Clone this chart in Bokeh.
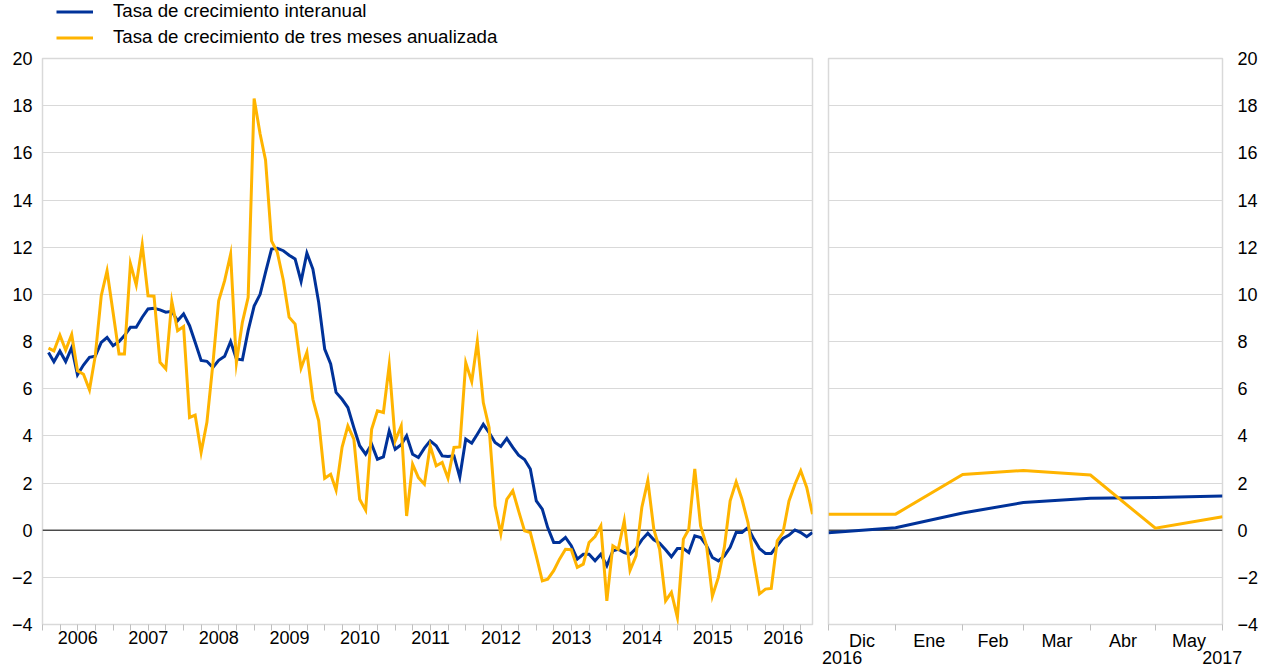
import pandas as pd
from bokeh.plotting import figure
from bokeh.models import FixedTicker, Span, Legend, LegendItem, LinearAxis, Range1d
from bokeh.layouts import row, column
from bokeh.embed import file_html
from bokeh.resources import INLINE

FONT = "Liberation Sans"
BLUE = "#003299"
ORANGE = "#FFB400"
GRID = "#d9d9d9"
TICK = "#bfbfbf"

# ---------------- data ----------------
first_month_end = "2006-01-31"
interanual = [
    7.53, 7.14, 7.59, 7.15, 7.74, 6.59, 7.00, 7.33, 7.38, 7.96, 8.17, 7.82,
    8.00, 8.25, 8.60, 8.60, 9.03, 9.38, 9.41, 9.34, 9.24, 9.28, 8.88, 9.17,
    8.67, 7.97, 7.20, 7.16, 6.90, 7.20, 7.37, 8.00, 7.26, 7.22, 8.46, 9.50,
    10.00, 10.93, 11.92, 11.95, 11.85, 11.66, 11.50, 10.55, 11.75, 11.07, 9.66, 7.68,
    7.05, 5.84, 5.55, 5.20, 4.35, 3.58, 3.22, 3.65, 3.01, 3.11, 4.21, 3.43,
    3.62, 4.00, 3.22, 3.08, 3.48, 3.79, 3.58, 3.15, 3.12, 3.15, 2.25, 3.86,
    3.69, 4.07, 4.49, 4.14, 3.72, 3.55, 3.89, 3.51, 3.18, 3.00, 2.59, 1.24,
    0.89, 0.11, -0.52, -0.52, -0.31, -0.66, -1.23, -1.02, -1.02, -1.30, -1.02, -1.51,
    -0.88, -0.81, -0.95, -1.02, -0.78, -0.41, -0.13, -0.41, -0.55, -0.83, -1.13, -0.78,
    -0.78, -0.95, -0.24, -0.31, -0.66, -1.16, -1.30, -1.09, -0.73, -0.10, -0.10, 0.11,
    -0.38, -0.78, -0.99, -0.99, -0.66, -0.35, -0.21, 0.01, -0.10, -0.28, -0.10,
]
tres_meses = [
    7.72, 7.60, 8.27, 7.64, 8.30, 6.76, 6.61, 5.95, 7.39, 9.94, 11.00, 9.24,
    7.47, 7.47, 11.30, 10.40, 12.10, 9.94, 9.92, 7.12, 6.84, 9.70, 8.46, 8.64,
    4.78, 4.88, 3.30, 4.57, 7.05, 9.73, 10.58, 11.70, 7.10, 8.81, 9.87, 18.30,
    16.80, 15.70, 12.27, 11.78, 10.60, 9.03, 8.74, 6.87, 7.54, 5.55, 4.64, 2.20,
    2.37, 1.70, 3.51, 4.42, 3.86, 1.31, 0.85, 4.28, 5.06, 4.99, 7.00, 3.79,
    4.42, 0.60, 2.80, 2.23, 1.95, 3.58, 2.73, 2.87, 2.20, 3.51, 3.53, 7.10,
    6.30, 8.00, 5.41, 4.35, 1.03, -0.15, 1.31, 1.67, 0.82, -0.03, -0.10, -1.10,
    -2.15, -2.08, -1.72, -1.23, -0.81, -0.83, -1.58, -1.44, -0.52, -0.27, 0.18, -3.00,
    -0.66, -0.81, 0.40, -1.70, -1.09, 0.96, 2.10, 0.04, -0.81, -3.00, -2.64, -3.70,
    -0.38, 0.04, 2.60, 0.18, -0.66, -2.80, -2.00, -0.73, 1.24, 2.05, 1.31, 0.33,
    -1.30, -2.70, -2.50, -2.47, -0.45, -0.10, 1.24, 1.95, 2.52, 1.81, 0.68,
]
years = [str(y) for y in range(2006, 2017)]

zoom_dates = ["2016-11-30", "2016-12-31", "2017-01-31", "2017-02-28",
              "2017-03-31", "2017-04-30", "2017-05-31"]
zoom_interanual = [-0.11, 0.10, 0.73, 1.17, 1.35, 1.39, 1.45]
zoom_tres_meses = [0.68, 0.68, 2.36, 2.53, 2.34, 0.08, 0.57]
zoom_months = ["Dic", "Ene", "Feb", "Mar", "Abr", "May"]
zoom_years = ["2016", "2017"]

legend_labels = ["Tasa de crecimiento interanual",
                 "Tasa de crecimiento de tres meses anualizada"]

y_ticks = list(range(-4, 21, 2))

# ---------------- derived x positions ----------------
dates = pd.date_range(first_month_end, periods=len(interanual), freq="ME")
t_years = [d.year + d.dayofyear / (366 if d.is_leap_year else 365) for d in dates]

zd = pd.to_datetime(zoom_dates)
z_days = [float((d - zd[0]).days) for d in zd]


def base_style(p):
    p.outline_line_color = GRID
    p.outline_line_width = 1.5
    p.background_fill_color = "white"
    p.border_fill_color = "white"
    p.xgrid.visible = False
    p.ygrid.grid_line_color = GRID
    p.ygrid.grid_line_width = 1
    p.yaxis.ticker = FixedTicker(ticks=y_ticks, minor_ticks=[])
    for ax in p.axis:
        ax.axis_line_color = None
        ax.major_label_text_font = FONT
        ax.major_label_text_font_size = "18px"
        ax.major_label_text_color = "#000000"
        ax.major_tick_in = 0
        ax.major_tick_out = 0
        ax.minor_tick_in = 0
        ax.minor_tick_out = 0
    p.xaxis.minor_tick_out = 6
    p.xaxis.minor_tick_line_color = TICK
    p.xaxis.minor_tick_line_width = 1
    p.xaxis.major_label_standoff = 0
    zero = Span(location=0, dimension="width", line_color="black",
                line_width=1, level="underlay")
    p.add_layout(zero)


# ---------------- legend strip ----------------
lg = figure(width=820, height=48, x_range=Range1d(0, 1), y_range=Range1d(0, 1),
            x_axis_location=None, y_axis_location=None,
            min_border_left=0, min_border_right=0, min_border_top=0, min_border_bottom=0,
            output_backend="svg", toolbar_location=None)
lg.outline_line_color = None
lg.background_fill_color = "white"
lg.border_fill_color = "white"
for g in lg.grid:
    g.visible = False
# same series, far outside this strip's ranges: only their legend swatches show
d1 = lg.line(t_years, interanual, line_color=BLUE, line_width=3)
d2 = lg.line(t_years, tres_meses, line_color=ORANGE, line_width=3)
legend = Legend(items=[LegendItem(label=legend_labels[0], renderers=[d1]),
                       LegendItem(label=legend_labels[1], renderers=[d2])],
                location=(56, 0), orientation="vertical",
                label_text_font=FONT, label_text_font_size="18.7px",
                label_text_color="#000000",
                glyph_width=37, glyph_height=21, label_height=21,
                label_standoff=20, spacing=4, padding=0, margin=0,
                border_line_color=None, background_fill_alpha=0)
lg.add_layout(legend, "center")

# ---------------- left panel ----------------
p1 = figure(frame_width=770, frame_height=566,
            x_range=Range1d(2006.0, t_years[-1]), y_range=Range1d(-4, 20),
            output_backend="svg", toolbar_location=None,
            min_border_left=42, min_border_right=8,
            min_border_top=10, min_border_bottom=45)
base_style(p1)
mid_years = [int(y) + 0.5 for y in years]
quarters = [int(years[0]) + q / 4 for q in range(0, 4 * len(years))]
p1.xaxis.ticker = FixedTicker(ticks=mid_years, minor_ticks=quarters)
p1.xaxis.major_label_overrides = {m: y for m, y in zip(mid_years, years)}
p1.yaxis.major_label_standoff = 10

p1.line(t_years, interanual, line_color=BLUE, line_width=3, line_join="miter")
p1.line(t_years, tres_meses, line_color=ORANGE, line_width=3, line_join="miter")

# ---------------- right panel ----------------
p2 = figure(frame_width=394, frame_height=566,
            x_range=Range1d(z_days[0], z_days[-1]), y_range=Range1d(-4, 20),
            y_axis_location="right",
            output_backend="svg", toolbar_location=None,
            min_border_left=8, min_border_right=0,
            min_border_top=10, min_border_bottom=45)
base_style(p2)
mid_months = [(a + b) / 2 for a, b in zip(z_days[:-1], z_days[1:])]
p2.xaxis.ticker = FixedTicker(ticks=mid_months, minor_ticks=z_days)
p2.xaxis.major_label_overrides = {m: s for m, s in zip(mid_months, zoom_months)}
p2.yaxis.major_label_standoff = 15

p2.line(z_days, zoom_interanual, line_color=BLUE, line_width=3, line_join="miter")
p2.line(z_days, zoom_tres_meses, line_color=ORANGE, line_width=3, line_join="miter")

year_pos = [z_days[0] + 6.3, z_days[-1] - 0.1]
year_axis = LinearAxis(ticker=FixedTicker(ticks=year_pos, minor_ticks=[]),
                       major_label_overrides={yp: s for yp, s in zip(year_pos, zoom_years)},
                       axis_line_color=None, major_tick_line_color=None,
                       minor_tick_line_color=None, major_tick_in=0, major_tick_out=0,
                       minor_tick_in=0, minor_tick_out=0,
                       major_label_standoff=-3,
                       major_label_text_font=FONT, major_label_text_font_size="18px",
                       major_label_text_color="#000000")
p2.add_layout(year_axis, "below")

layout = column(lg, row(p1, p2))
open("out.html", "w").write(file_html(layout, INLINE))
